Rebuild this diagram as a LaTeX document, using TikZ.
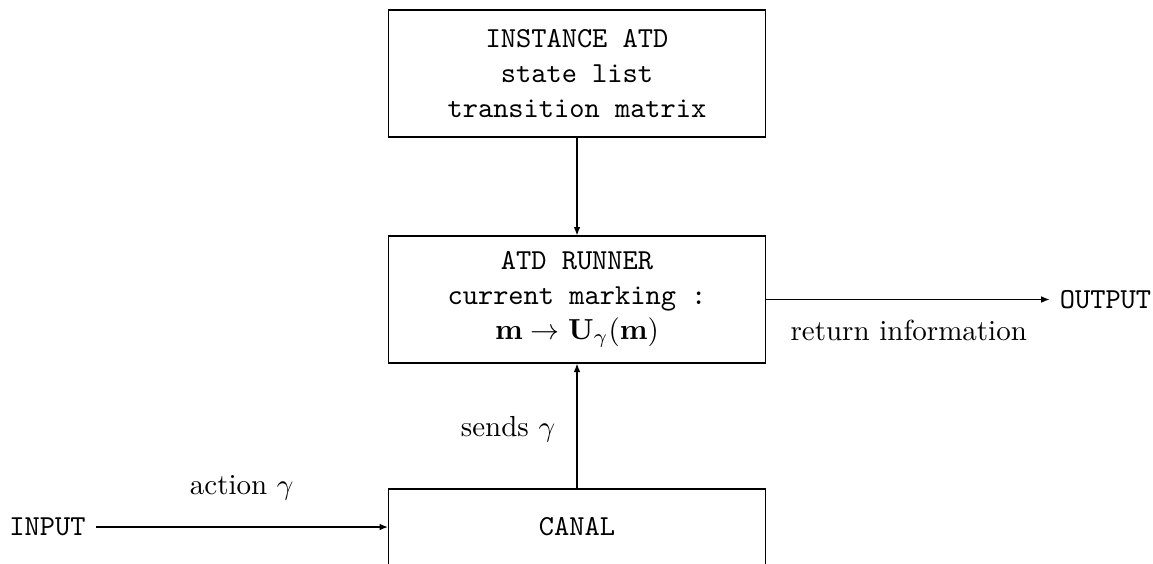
\documentclass[tikz,border=0pt]{standalone}
\usetikzlibrary{arrows.meta}
\begin{document}
\begin{tikzpicture}[x=0.3448pt,y=-0.3448pt,
  box/.style={draw, minimum width=130pt, align=center, font=\ttfamily},
  arr/.style={-{Latex[length=2.9pt,width=2.3pt]}},
  lbl/.style={inner sep=0pt}]
\useasboundingbox (0,0) rectangle (1153,563);
\node[box, minimum height=43.8pt] (inst) at (577,73.5) {INSTANCE ATD\\state list\\transition matrix};
\node[box, minimum height=43.8pt] (run) at (577,299.5) {ATD RUNNER\\current marking :\\$\mathbf{m}\to\mathbf{U}_\gamma(\mathbf{m})$};
\node[box, minimum height=26.2pt] (canal) at (577,527) {CANAL};
\node[font=\ttfamily] (input) at (47.5,527) {INPUT};
\node[font=\ttfamily] (output) at (1105.5,299.5) {OUTPUT};
\draw[arr] (inst) -- (run);
\draw[arr] (canal) -- (run);
\draw[arr] (input) -- (canal);
\draw[arr] (run) -- (output);
\node[lbl] (lsends) at (508,429.5) {sends $\gamma$};
\node[lbl] (laction) at (241.7,487.8) {action $\gamma$};
\node[lbl] (lreturn) at (908.7,330) {return information};
\end{tikzpicture}
\end{document}
